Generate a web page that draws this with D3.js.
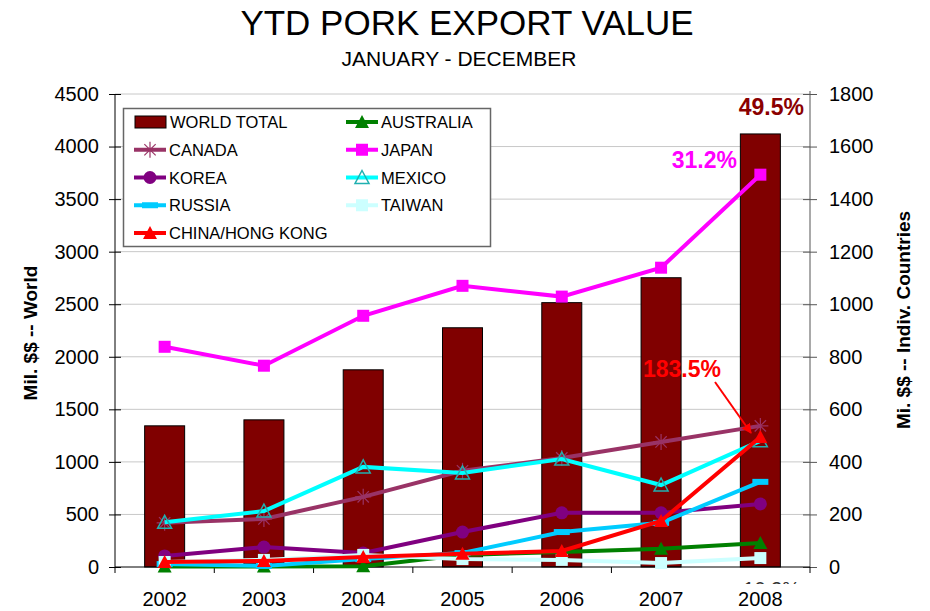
<!DOCTYPE html>
<html>
<head>
<meta charset="utf-8">
<script src="https://cdn.jsdelivr.net/npm/d3@7"></script>
<style>
  body { margin: 0; background: #fff; }
  text { font-family: "Liberation Sans", Arial, sans-serif; }
</style>
</head>
<body>
<div id="chart"></div>
<script>
// data
var years = ["2002", "2003", "2004", "2005", "2006", "2007", "2008"];
var worldTotal = [1343, 1400, 1876, 2276, 2515, 2752, 4120];
var australia = [2, 2, 3, 46, 57, 69, 91];
var canada = [168, 183, 267, 366, 415, 476, 537];
var japan = [838, 766, 956, 1070, 1029, 1139, 1493];
var korea = [42, 76, 53, 133, 206, 206, 240];
var mexico = [170, 213, 381, 358, 411, 312, 480];
var russia = [11, 4, 30, 53, 133, 168, 324];
var taiwan = [19, 27, 46, 30, 27, 15, 34];
var chinaHK = [19, 23, 38, 50, 61, 175, 495];
var leftTicks = [0, 500, 1000, 1500, 2000, 2500, 3000, 3500, 4000, 4500];
var rightTicks = [0, 200, 400, 600, 800, 1000, 1200, 1400, 1600, 1800];

var series = [
  { name: "AUSTRALIA", values: australia, color: "#008000", marker: "triangle", col: 1, row: 0 },
  { name: "CANADA", values: canada, color: "#993366", marker: "star", col: 0, row: 1 },
  { name: "JAPAN", values: japan, color: "#FF00FF", marker: "square", col: 1, row: 1 },
  { name: "KOREA", values: korea, color: "#800080", marker: "circle", col: 0, row: 2 },
  { name: "MEXICO", values: mexico, color: "#00FFFF", marker: "hollowTriangle", col: 1, row: 2 },
  { name: "RUSSIA", values: russia, color: "#00CCFF", marker: "dash", col: 0, row: 3 },
  { name: "TAIWAN", values: taiwan, color: "#CCFFFF", marker: "square", col: 1, row: 3 },
  { name: "CHINA/HONG KONG", values: chinaHK, color: "#FF0000", marker: "triangle", col: 0, row: 4 }
];

var width = 930, height = 611;
var plot = { left: 115, right: 810, top: 94, bottom: 567 };

var svg = d3.select("#chart").append("svg")
  .attr("width", width)
  .attr("height", height);

var x = d3.scaleBand().domain(years).range([plot.left, plot.right]);
var yL = d3.scaleLinear().domain([0, 4500]).range([plot.bottom, plot.top]);
var yR = d3.scaleLinear().domain([0, 1800]).range([plot.bottom, plot.top]);

// titles
svg.append("text")
  .attr("x", 467).attr("y", 35)
  .attr("text-anchor", "middle")
  .attr("font-size", "35px")
  .text("YTD PORK EXPORT VALUE");
svg.append("text")
  .attr("x", 459).attr("y", 66)
  .attr("text-anchor", "middle")
  .attr("font-size", "21px")
  .text("JANUARY - DECEMBER");

// grid
svg.append("g").selectAll("line")
  .data(leftTicks.slice(1))
  .enter().append("line")
  .attr("x1", plot.left).attr("x2", plot.right)
  .attr("y1", d => yL(d)).attr("y2", d => yL(d))
  .attr("stroke", "#C8C8C8").attr("stroke-width", 1);

// bars
svg.append("g").selectAll("rect")
  .data(worldTotal)
  .enter().append("rect")
  .attr("x", (d, i) => x(years[i]) + x.bandwidth() / 2 - 20)
  .attr("y", d => yL(d))
  .attr("width", 40)
  .attr("height", d => plot.bottom - yL(d))
  .attr("fill", "#800000")
  .attr("stroke", "#000")
  .attr("stroke-width", 1);

// axes
var axL = svg.append("g")
  .attr("transform", `translate(${plot.left},0)`)
  .call(d3.axisLeft(yL).tickValues(leftTicks).tickFormat(d3.format("d")).tickSize(6).tickPadding(10));
axL.selectAll(".tick line").attr("x2", -6).attr("x1", 6).attr("stroke", "#000");
axL.select(".domain").attr("d", `M0,${plot.top}V${plot.bottom}`).attr("stroke", "#000");
axL.selectAll("text").attr("font-size", "20px").attr("fill", "#000")
  .attr("font-family", "Liberation Sans, Arial, sans-serif");

var axR = svg.append("g")
  .attr("transform", `translate(${plot.right},0)`)
  .call(d3.axisRight(yR).tickValues(rightTicks).tickFormat(d3.format("d")).tickSize(7).tickPadding(12));
axR.selectAll(".tick line").attr("x1", -7).attr("stroke", "#555");
axR.select(".domain").attr("d", `M0,${plot.top - 3}V${plot.bottom}`).attr("stroke", "#555");
axR.selectAll("text").attr("font-size", "20px").attr("fill", "#000")
  .attr("font-family", "Liberation Sans, Arial, sans-serif");

var axB = svg.append("g")
  .attr("transform", `translate(0,${plot.bottom})`)
  .call(d3.axisBottom(x).tickSize(0).tickPadding(25));
axB.select(".domain").attr("d", `M${plot.left},0H${plot.right}`).attr("stroke", "#000");
axB.selectAll("text").attr("font-size", "20px").attr("fill", "#000")
  .attr("font-family", "Liberation Sans, Arial, sans-serif");
svg.append("g").selectAll("line")
  .data(years.slice(0, -1).map(d => x(d)).concat([plot.right]))
  .enter().append("line")
  .attr("x1", d => d).attr("x2", d => d)
  .attr("y1", plot.bottom).attr("y2", plot.bottom + 6)
  .attr("stroke", "#000");

// axis titles
svg.append("text")
  .attr("transform", "translate(37,333) rotate(-90)")
  .attr("text-anchor", "middle")
  .attr("font-size", "19px").attr("font-weight", "bold")
  .text("Mil. $$ -- World");
svg.append("text")
  .attr("transform", "translate(910,320) rotate(-90)")
  .attr("text-anchor", "middle")
  .attr("font-size", "19px").attr("font-weight", "bold")
  .text("Mi. $$ -- Indiv. Countries");

// markers
function drawMarker(g, type, color, cx, cy) {
  if (type === "square") {
    g.append("rect").attr("x", cx - 6).attr("y", cy - 6).attr("width", 12).attr("height", 12)
      .attr("fill", color);
  } else if (type === "circle") {
    g.append("circle").attr("cx", cx).attr("cy", cy).attr("r", 6.5).attr("fill", color);
  } else if (type === "triangle") {
    g.append("path").attr("d", `M${cx},${cy - 7}L${cx + 7},${cy + 6}L${cx - 7},${cy + 6}Z`)
      .attr("fill", color);
  } else if (type === "hollowTriangle") {
    g.append("path").attr("d", `M${cx},${cy - 7}L${cx + 7},${cy + 6}L${cx - 7},${cy + 6}Z`)
      .attr("fill", "none").attr("stroke", "#20B0B0").attr("stroke-width", 1.5);
  } else if (type === "dash") {
    g.append("rect").attr("x", cx - 8).attr("y", cy - 3).attr("width", 16).attr("height", 6)
      .attr("fill", color);
  } else if (type === "star") {
    [0, 45, 90, 135].forEach(a => {
      var r = 8, dx = r * Math.cos(a * Math.PI / 180), dy = r * Math.sin(a * Math.PI / 180);
      g.append("line").attr("x1", cx - dx).attr("y1", cy - dy).attr("x2", cx + dx).attr("y2", cy + dy)
        .attr("stroke", color).attr("stroke-width", 1.2);
    });
  }
}

var line = d3.line()
  .x((d, i) => x(years[i]) + x.bandwidth() / 2)
  .y(d => yR(d));

series.forEach(s => {
  var g = svg.append("g");
  g.append("path")
    .attr("d", line(s.values))
    .attr("fill", "none")
    .attr("stroke", s.color)
    .attr("stroke-width", 4);
  s.values.forEach((v, i) => drawMarker(g, s.marker, s.color, x(years[i]) + x.bandwidth() / 2, yR(v)));
});

// legend
var lg = svg.append("g");
lg.append("rect")
  .attr("x", 123.5).attr("y", 108.5).attr("width", 367).attr("height", 138)
  .attr("fill", "#fff").attr("stroke", "#666").attr("stroke-width", 1.5);
var rowY = d3.scalePoint().domain(d3.range(5)).range([122, 233]);
lg.append("rect").attr("x", 135).attr("y", 116).attr("width", 31).attr("height", 12)
  .attr("fill", "#800000").attr("stroke", "#000");
lg.append("text").attr("x", 170).attr("y", 128).attr("font-size", "16.5px").text("WORLD TOTAL");
series.forEach(s => {
  var lx = s.col === 0 ? 134 : 346, ly = rowY(s.row);
  var g = lg.append("g");
  g.append("line").attr("x1", lx).attr("x2", lx + 32).attr("y1", ly).attr("y2", ly)
    .attr("stroke", s.color).attr("stroke-width", 4);
  drawMarker(g, s.marker, s.color, lx + 16, ly);
  g.append("text").attr("x", lx + 35).attr("y", ly + 6).attr("font-size", "16.5px").text(s.name);
});

// annotations
svg.append("text").attr("x", 804).attr("y", 115).attr("text-anchor", "end")
  .attr("font-size", "23px").attr("font-weight", "bold").attr("fill", "#8B0000").text("49.5%");
svg.append("text").attr("x", 737).attr("y", 168).attr("text-anchor", "end")
  .attr("font-size", "23px").attr("font-weight", "bold").attr("fill", "#FF00FF").text("31.2%");
svg.append("text").attr("x", 721).attr("y", 377).attr("text-anchor", "end")
  .attr("font-size", "23px").attr("font-weight", "bold").attr("fill", "#FF0000").text("183.5%");

svg.append("defs").append("marker")
  .attr("id", "arrow").attr("viewBox", "0 0 10 10").attr("refX", 9).attr("refY", 5)
  .attr("markerWidth", 5).attr("markerHeight", 5).attr("orient", "auto")
  .append("path").attr("d", "M0,0L10,5L0,10Z").attr("fill", "#FF0000");
svg.append("line")
  .attr("x1", 715).attr("y1", 382).attr("x2", 751).attr("y2", 433)
  .attr("stroke", "#FF0000").attr("stroke-width", 2)
  .attr("marker-end", "url(#arrow)");

// clipped label peeking out under the axis
svg.select("defs").append("clipPath").attr("id", "peek")
  .append("rect").attr("x", 700).attr("y", 579).attr("width", 130).attr("height", 5);
svg.append("text").attr("x", 800).attr("y", 596).attr("text-anchor", "end")
  .attr("clip-path", "url(#peek)")
  .attr("font-size", "20px").attr("fill", "#333").text("10.2%");
</script>
</body>
</html>
